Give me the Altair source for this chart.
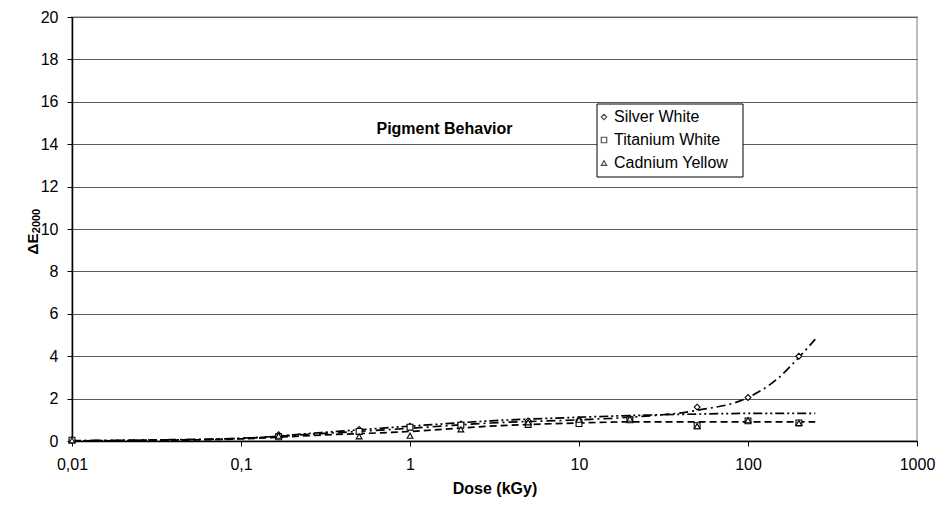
import altair as alt
import pandas as pd

# ---- data ----
series_names = ["Silver White", "Titanium White", "Cadnium Yellow"]
series_shapes = ["diamond", "square", "triangle-up"]
dose = [0.01, 0.167, 0.5, 1, 2, 5, 10, 20, 50, 100, 200]
silver_white = [0.05, 0.30, 0.55, 0.70, 0.80, 0.95, 1.00, 1.08, 1.60, 2.05, 4.00]
titanium_white = [0.04, 0.20, 0.45, 0.65, 0.75, 0.78, 0.82, 1.00, 0.72, 0.95, 0.85]
cadnium_yellow = [0.03, 0.25, 0.22, 0.25, 0.55, 0.88, 1.00, 1.05, 0.70, 0.98, 0.85]

# trend lines
trend_dose = [0.01, 0.03, 0.1, 0.3, 1, 3, 10, 20, 50, 100, 150, 200, 250]
silver_trend = [0.02, 0.05, 0.13, 0.35, 0.60, 0.85, 1.00, 1.12, 1.45, 2.05, 2.95, 3.95, 4.80]
titanium_trend = [0.00, 0.03, 0.10, 0.28, 0.45, 0.70, 0.85, 0.90, 0.90, 0.90, 0.90, 0.90, 0.90]
cadnium_trend = [0.01, 0.04, 0.12, 0.40, 0.70, 0.95, 1.12, 1.20, 1.27, 1.30, 1.30, 1.30, 1.30]

x_ticks = [0.01, 0.1, 1, 10, 100, 1000]
y_ticks = list(range(0, 21, 2))
chart_title = "Pigment Behavior"
x_title = "Dose (kGy)"
y_title_main = "ΔE"
y_title_sub = "2000"

FONT = "Liberation Sans"

pts = pd.DataFrame({
    "dose": dose * 3,
    "value": silver_white + titanium_white + cadnium_yellow,
    "series": [series_names[0]] * len(dose) + [series_names[1]] * len(dose) + [series_names[2]] * len(dose),
})

x_scale = alt.Scale(type="log", domain=[0.01, 1000], nice=False)
y_scale = alt.Scale(domain=[0, 20], nice=False, zero=True)
shape_scale = alt.Scale(domain=series_names, range=series_shapes)

x_axis = alt.Axis(
    values=x_ticks, grid=False, title=x_title,
    labelExpr="replace(toString(datum.value), '.', ',')",
    labelFont=FONT, labelFontSize=16, labelColor="black", labelPadding=10,
    tickSize=5, tickColor="black", domainColor="black", domainWidth=1.5,
    titleFont=FONT, titleFontSize=16, titleFontWeight="bold", titleColor="black", titlePadding=8,
    labelFlush=False,
)
y_axis = alt.Axis(
    values=y_ticks, grid=True, gridColor="#5a5a5a", gridWidth=1, title=None,
    labelFont=FONT, labelFontSize=16, labelColor="black", labelPadding=9,
    tickSize=5, tickColor="black", domainColor="black", domainWidth=1.5,
)

def trend(values, dash):
    df = pd.DataFrame({"dose": trend_dose, "value": values})
    return alt.Chart(df).mark_line(color="black", strokeWidth=1.7, strokeDash=dash, interpolate="monotone").encode(
        x=alt.X("dose:Q", scale=x_scale, axis=x_axis),
        y=alt.Y("value:Q", scale=y_scale, axis=y_axis),
    )

l_silver = trend(silver_trend, [9, 4, 2, 4])
l_titan = trend(titanium_trend, [7, 4])
l_cad = trend(cadnium_trend, [9, 3, 2, 3, 2, 3])

points = alt.Chart(pts).mark_point(filled=True, fill="white", stroke="black", strokeWidth=1.1, size=34, opacity=1).encode(
    x=alt.X("dose:Q", scale=x_scale, axis=x_axis),
    y=alt.Y("value:Q", scale=y_scale, axis=y_axis),
    shape=alt.Shape("series:N", scale=shape_scale, legend=None),
)

title_df = pd.DataFrame({"dose": [1.6], "value": [14.7], "label": [chart_title]})
title_txt = alt.Chart(title_df).mark_text(font=FONT, fontSize=16, fontWeight="bold", color="black").encode(
    x=alt.X("dose:Q", scale=x_scale, axis=x_axis),
    y=alt.Y("value:Q", scale=y_scale, axis=y_axis),
    text="label:N",
)

# y-axis title with subscript (pixel placement relative to plot area)
ylab_df = pd.DataFrame({"main": [y_title_main], "sub": [y_title_sub]})
ylab_main = alt.Chart(ylab_df).mark_text(font=FONT, fontSize=15, fontWeight="bold", color="black",
                                         angle=270, align="center", baseline="middle").encode(
    x=alt.value(-39), y=alt.value(227), text="main:N")
ylab_sub = alt.Chart(ylab_df).mark_text(font=FONT, fontSize=11, fontWeight="bold", color="black",
                                        angle=270, align="center", baseline="middle").encode(
    x=alt.value(-35), y=alt.value(204), text="sub:N")

# legend box drawn as marks (pixel placement relative to plot area)
leg_df = pd.DataFrame({"series": series_names})
leg_box = alt.Chart(pd.DataFrame({"a": [0]})).mark_rect(fill="white", stroke="black", strokeWidth=1).encode(
    x=alt.value(525), x2=alt.value(671), y=alt.value(87), y2=alt.value(160))
leg_layers = [leg_box]
row_y = [100, 123, 146]
for i, name in enumerate(series_names):
    d = pd.DataFrame({"series": [name]})
    leg_layers.append(alt.Chart(d).mark_point(filled=True, fill="white", stroke="black", strokeWidth=1.1, size=30).encode(
        x=alt.value(532), y=alt.value(row_y[i]),
        shape=alt.Shape("series:N", scale=shape_scale, legend=None)))
    leg_layers.append(alt.Chart(d).mark_text(font=FONT, fontSize=16, color="black", align="left", baseline="middle").encode(
        x=alt.value(542), y=alt.value(row_y[i]), text="series:N"))

chart = alt.layer(l_silver, l_titan, l_cad, points, title_txt, ylab_main, ylab_sub, *leg_layers).properties(
    width=845, height=424,
    padding={"left": 72, "top": 17, "right": 30, "bottom": 65},
    autosize="none",
    background="white",
).configure_view(stroke="#a6a6a6", strokeWidth=1.5)

chart.save("out.html", embed_options={"renderer": "svg", "actions": False})
